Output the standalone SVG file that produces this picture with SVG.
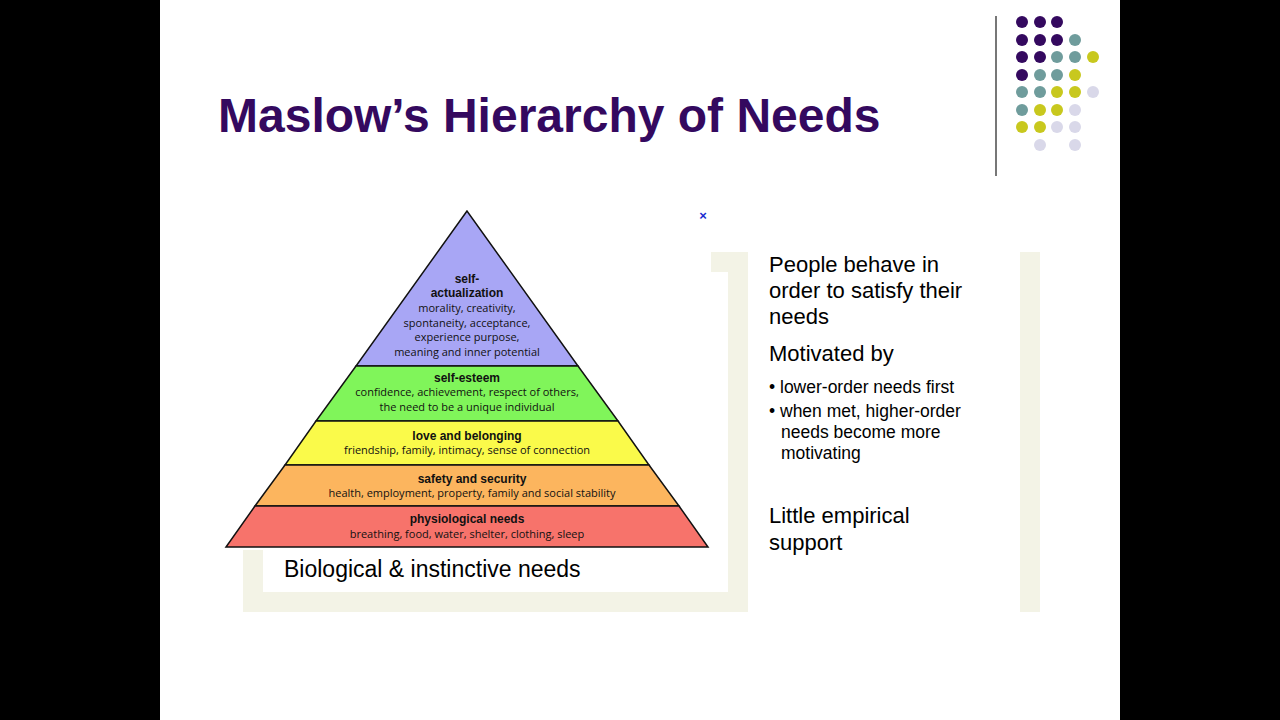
<svg xmlns="http://www.w3.org/2000/svg" width="1280" height="720" viewBox="0 0 1280 720">
<style>
.d{stroke:none}.p{fill:#34095f}.t{fill:#6f9c9c}.y{fill:#c8c81e}.l{fill:#d9d8e9}
.fr{fill:#f3f3e6}
.h{font-family:"Liberation Sans",sans-serif;font-weight:bold;font-size:12px;text-anchor:middle;fill:#111}
.s{font-family:"Open Sans","Liberation Sans",sans-serif;font-size:11px;text-anchor:middle;fill:#111}
.b{font-family:"Liberation Sans",Arial,sans-serif;fill:#000}
.band{stroke:#111;stroke-width:1.5}
</style>
<rect width="1280" height="720" fill="#fff"/>
<rect x="0" y="0" width="160" height="720" fill="#000"/>
<rect x="1120" y="0" width="160" height="720" fill="#000"/>
<text x="218" y="132" font-family="Liberation Sans,Arial,sans-serif" font-weight="bold" font-size="48" fill="#34095f">Maslow’s Hierarchy of Needs</text>
<line x1="996" y1="16" x2="996" y2="176" stroke="#777" stroke-width="2"/>
<g id="dots">
<circle class="p" cx="1022" cy="22" r="6"/><circle class="p" cx="1040" cy="22" r="6"/><circle class="p" cx="1057" cy="22" r="6"/>
<circle class="p" cx="1022" cy="40" r="6"/><circle class="p" cx="1040" cy="40" r="6"/><circle class="p" cx="1057" cy="40" r="6"/><circle class="t" cx="1075" cy="40" r="6"/>
<circle class="p" cx="1022" cy="57" r="6"/><circle class="p" cx="1040" cy="57" r="6"/><circle class="t" cx="1057" cy="57" r="6"/><circle class="t" cx="1075" cy="57" r="6"/><circle class="y" cx="1093" cy="57" r="6"/>
<circle class="p" cx="1022" cy="75" r="6"/><circle class="t" cx="1040" cy="75" r="6"/><circle class="t" cx="1057" cy="75" r="6"/><circle class="y" cx="1075" cy="75" r="6"/>
<circle class="t" cx="1022" cy="92" r="6"/><circle class="t" cx="1040" cy="92" r="6"/><circle class="y" cx="1057" cy="92" r="6"/><circle class="y" cx="1075" cy="92" r="6"/><circle class="l" cx="1093" cy="92" r="6"/>
<circle class="t" cx="1022" cy="110" r="6"/><circle class="y" cx="1040" cy="110" r="6"/><circle class="y" cx="1057" cy="110" r="6"/><circle class="l" cx="1075" cy="110" r="6"/>
<circle class="y" cx="1022" cy="127" r="6"/><circle class="y" cx="1040" cy="127" r="6"/><circle class="l" cx="1057" cy="127" r="6"/><circle class="l" cx="1075" cy="127" r="6"/>
<circle class="l" cx="1040" cy="145" r="6"/><circle class="l" cx="1075" cy="145" r="6"/>
</g>
<g id="frames">
<rect class="fr" x="243" y="550" width="20" height="62"/>
<rect class="fr" x="243" y="592" width="505" height="20"/>
<rect class="fr" x="728" y="252" width="20" height="360"/>
<rect class="fr" x="711" y="252" width="37" height="20"/>
<rect class="fr" x="1020" y="252" width="20" height="360"/>
</g>
<text x="703" y="220" font-family="Liberation Sans,sans-serif" font-weight="bold" font-size="13" fill="#1a2ad0" text-anchor="middle">×</text>
<g id="pyramid">
<polygon class="band" fill="#a8a6f5" points="467,211 356,366 578,366"/>
<polygon class="band" fill="#80f55a" points="356,366 578,366 618,421 316,421"/>
<polygon class="band" fill="#fafa4a" points="316,421 618,421 649,465 285,465"/>
<polygon class="band" fill="#fcb55e" points="285,465 649,465 679,506 255,506"/>
<polygon class="band" fill="#f7736b" points="255,506 679,506 708,547 226,547"/>
<text class="h" x="467" y="283">self-</text>
<text class="h" x="467" y="297">actualization</text>
<text class="s" x="467" y="312">morality, creativity,</text>
<text class="s" x="467" y="327">spontaneity, acceptance,</text>
<text class="s" x="467" y="341">experience purpose,</text>
<text class="s" x="467" y="356">meaning and inner potential</text>
<text class="h" x="467" y="382">self-esteem</text>
<text class="s" x="467" y="396">confidence, achievement, respect of others,</text>
<text class="s" x="467" y="411">the need to be a unique individual</text>
<text class="h" x="467" y="440">love and belonging</text>
<text class="s" x="467" y="454">friendship, family, intimacy, sense of connection</text>
<text class="h" x="472" y="483">safety and security</text>
<text class="s" x="472" y="497">health, employment, property, family and social stability</text>
<text class="h" x="467" y="523">physiological needs</text>
<text class="s" x="467" y="538">breathing, food, water, shelter, clothing, sleep</text>
</g>
<text class="b" x="284" y="577" font-size="23">Biological &amp; instinctive needs</text>
<g class="b" font-size="22">
<text x="769" y="272">People behave in</text>
<text x="769" y="298">order to satisfy their</text>
<text x="769" y="324">needs</text>
<text x="769" y="361">Motivated by</text>
<text x="769" y="523">Little empirical</text>
<text x="769" y="550">support</text>
</g>
<g class="b" font-size="17.5">
<text x="769" y="393">• lower-order needs first</text>
<text x="769" y="417">• when met, higher-order</text>
<text x="781" y="438">needs become more</text>
<text x="781" y="459">motivating</text>
</g>
</svg>
